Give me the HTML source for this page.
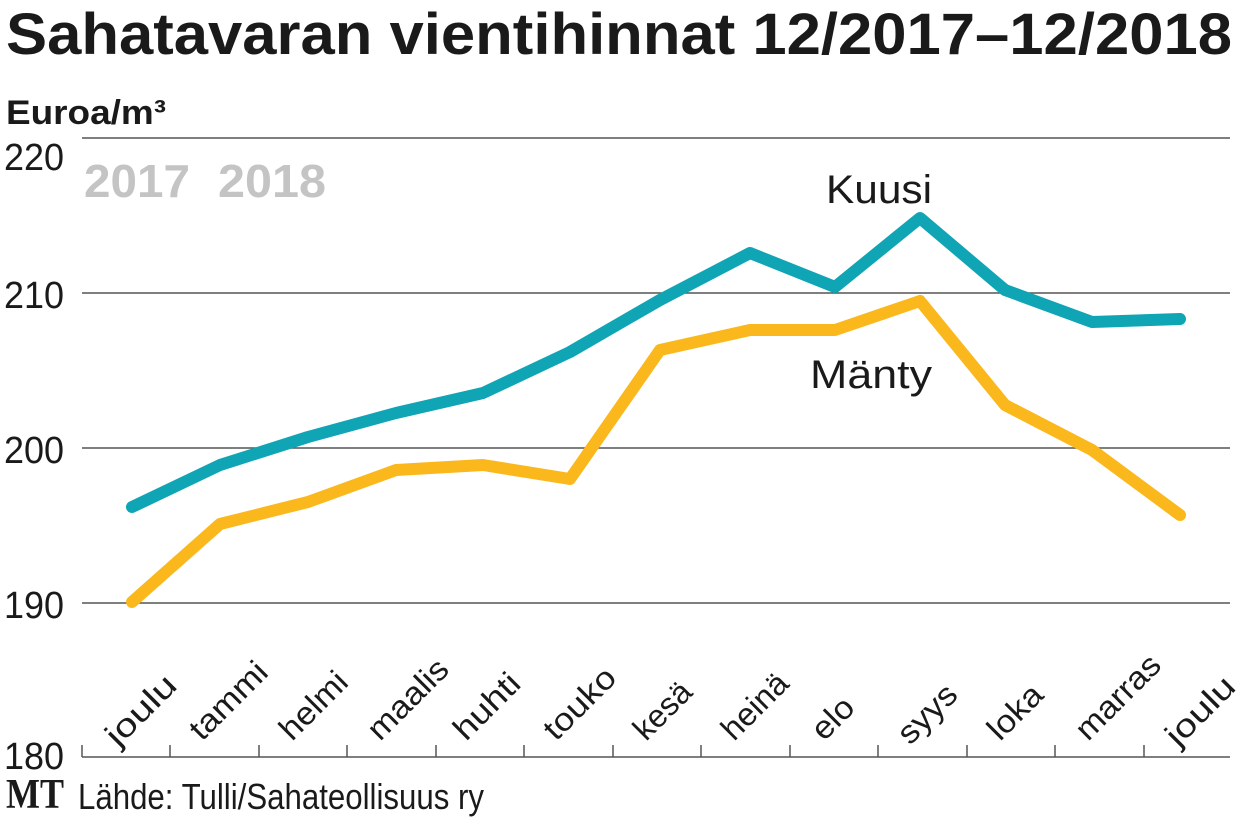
<!DOCTYPE html>
<html><head><meta charset="utf-8"><style>
html,body{margin:0;padding:0;background:#fff;}
svg{display:block;font-family:"Liberation Sans",sans-serif;}
</style></head><body>
<svg width="1240" height="817" viewBox="0 0 1240 817">
<text x="6" y="54" font-size="58" font-weight="bold" fill="#1a1a1a" textLength="1226" lengthAdjust="spacingAndGlyphs">Sahatavaran vientihinnat 12/2017–12/2018</text>
<text x="6" y="124" font-size="34" font-weight="bold" fill="#1a1a1a" textLength="160" lengthAdjust="spacingAndGlyphs">Euroa/m³</text>
<g stroke="#555" stroke-width="1.5">
<line x1="82" y1="138" x2="1230" y2="138"/>
<line x1="82" y1="293" x2="1230" y2="293"/>
<line x1="82" y1="448" x2="1230" y2="448"/>
<line x1="82" y1="603" x2="1230" y2="603"/>
<line x1="82" y1="757" x2="1230" y2="757"/>
<line x1="82" y1="745" x2="82" y2="757"/>
<line x1="170" y1="745" x2="170" y2="757"/>
<line x1="259" y1="745" x2="259" y2="757"/>
<line x1="347" y1="745" x2="347" y2="757"/>
<line x1="436" y1="745" x2="436" y2="757"/>
<line x1="524" y1="745" x2="524" y2="757"/>
<line x1="613" y1="745" x2="613" y2="757"/>
<line x1="701" y1="745" x2="701" y2="757"/>
<line x1="790" y1="745" x2="790" y2="757"/>
<line x1="878" y1="745" x2="878" y2="757"/>
<line x1="967" y1="745" x2="967" y2="757"/>
<line x1="1055" y1="745" x2="1055" y2="757"/>
<line x1="1144" y1="745" x2="1144" y2="757"/>
</g>
<g font-size="38" fill="#1a1a1a">
<text x="4" y="170" textLength="60" lengthAdjust="spacingAndGlyphs">220</text>
<text x="4" y="308" textLength="60" lengthAdjust="spacingAndGlyphs">210</text>
<text x="4" y="463" textLength="60" lengthAdjust="spacingAndGlyphs">200</text>
<text x="4" y="618" textLength="60" lengthAdjust="spacingAndGlyphs">190</text>
<text x="4" y="769" textLength="60" lengthAdjust="spacingAndGlyphs">180</text>
</g>
<text x="84" y="197" font-size="46" font-weight="bold" fill="#c4c4c4" textLength="106" lengthAdjust="spacingAndGlyphs">2017</text>
<text x="218" y="197" font-size="46" font-weight="bold" fill="#c4c4c4" textLength="108" lengthAdjust="spacingAndGlyphs">2018</text>
<polyline fill="none" stroke="#0fa5b5" stroke-width="12" stroke-linejoin="round" stroke-linecap="round"
points="132,507 220,465 308,437 396,413 483,393 570,352 660,300 750,253 835,287 920,218 1005,290 1092,322 1180,319"/>
<polyline fill="none" stroke="#fbb81d" stroke-width="12" stroke-linejoin="round" stroke-linecap="round"
points="132,602 220,524 308,502 396,470 483,465 570,479 660,350 750,330 835,330 920,301 1005,405 1092,450 1180,515"/>
<text x="826" y="203" font-size="40" fill="#1a1a1a" textLength="106" lengthAdjust="spacingAndGlyphs">Kuusi</text>
<text x="810" y="388" font-size="40" fill="#1a1a1a" textLength="122" lengthAdjust="spacingAndGlyphs">Mänty</text>
<g font-size="32" fill="#1a1a1a">
<text transform="translate(118,748) rotate(-45)" textLength="86" lengthAdjust="spacingAndGlyphs">joulu</text>
<text transform="translate(202,742) rotate(-45)" textLength="96" lengthAdjust="spacingAndGlyphs">tammi</text>
<text transform="translate(292,742) rotate(-45)" textLength="82" lengthAdjust="spacingAndGlyphs">helmi</text>
<text transform="translate(380,742) rotate(-45)" textLength="100" lengthAdjust="spacingAndGlyphs">maalis</text>
<text transform="translate(466,742) rotate(-45)" textLength="80" lengthAdjust="spacingAndGlyphs">huhti</text>
<text transform="translate(556,742) rotate(-45)" textLength="88" lengthAdjust="spacingAndGlyphs">touko</text>
<text transform="translate(646,742) rotate(-45)" textLength="68" lengthAdjust="spacingAndGlyphs">kesä</text>
<text transform="translate(734,742) rotate(-45)" textLength="80" lengthAdjust="spacingAndGlyphs">heinä</text>
<text transform="translate(824,742) rotate(-45)" textLength="46" lengthAdjust="spacingAndGlyphs">elo</text>
<text transform="translate(910,746) rotate(-45)" textLength="70" lengthAdjust="spacingAndGlyphs">syys</text>
<text transform="translate(1000,742) rotate(-45)" textLength="64" lengthAdjust="spacingAndGlyphs">loka</text>
<text transform="translate(1088,742) rotate(-45)" textLength="106" lengthAdjust="spacingAndGlyphs">marras</text>
<text transform="translate(1178,748) rotate(-45)" textLength="84" lengthAdjust="spacingAndGlyphs">joulu</text>
</g>
<text x="6" y="808" font-size="42" font-weight="bold" font-family="Liberation Serif,serif" fill="#1a1a1a" textLength="58" lengthAdjust="spacingAndGlyphs">MT</text>
<text x="78" y="809" font-size="36" fill="#1a1a1a" textLength="406" lengthAdjust="spacingAndGlyphs">Lähde: Tulli/Sahateollisuus ry</text>
</svg>
</body></html>
